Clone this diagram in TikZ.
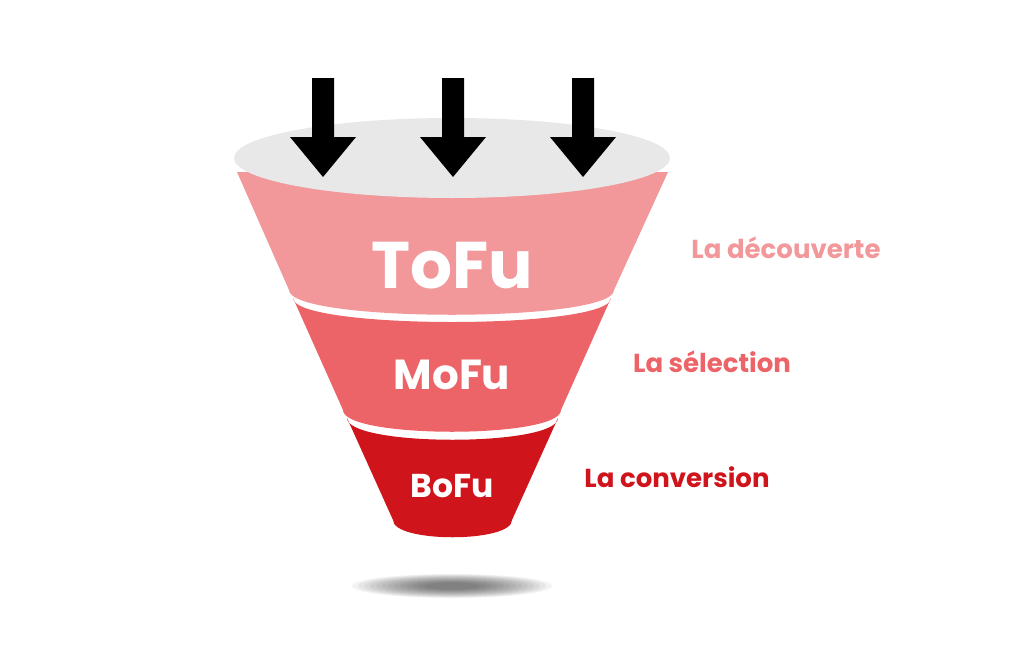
\documentclass[tikz,border=0pt]{standalone}
\usepackage{fontspec}
\setmainfont{Poppins}
\definecolor{c1}{HTML}{F2979A}
\definecolor{c2}{HTML}{EC6468}
\definecolor{c3}{HTML}{D0141C}
\definecolor{eg}{HTML}{E8E8E8}
\tikzset{lab/.style={font=\bfseries\fontsize{26}{30}\selectfont,anchor=center},
 fun/.style={text=white,font=\bfseries},
 arr/.style={fill=black}}
\begin{document}
\begin{tikzpicture}[x=1pt,y=-1pt]
\useasboundingbox (0,0) rectangle (1024,664);
% shadow
\foreach \i in {0,...,12}{\fill[black,opacity=0.05] (452,586) ellipse ({100-6*\i} and {12-0.7*\i});}
% bands
\fill[c1] (237,172) -- (289,290) .. controls (289,323) and (614,323) .. (614,290) -- (668,172) -- cycle;
\fill[c2] (293,298) .. controls (293,330) and (611,330) .. (611,298) -- (561,410) .. controls (561,439) and (343,439) .. (343,410) -- cycle;
\fill[c3] (347,418) .. controls (347,447) and (558,447) .. (558,418) -- (512,520) .. controls (512,543) and (393,543) .. (393,520) -- cycle;
% ellipse
\fill[eg] (452,158) ellipse (218 and 40);
% arrows
\foreach \x in {323,453,583}{\fill[arr] (\x-11,78) -- (\x+11,78) -- (\x+11,137) -- (\x+33,137) -- (\x,177) -- (\x-33,137) -- (\x-11,137) -- cycle;}
\node[fun,font=\bfseries\fontsize{66}{70}\selectfont] (tofu) at (452,266) {ToFu};
\node[fun,font=\bfseries\fontsize{42}{46}\selectfont] (mofu) at (452,375) {MoFu};
\node[fun,font=\bfseries\fontsize{33}{36}\selectfont] (bofu) at (452,486) {BoFu};
\node[lab,text=c1] (l1) at (786,248) {La découverte};
\node[lab,text=c2] (l2) at (712,362) {La sélection};
\node[lab,text=c3] (l3) at (677,477) {La conversion};
\end{tikzpicture}
\end{document}
